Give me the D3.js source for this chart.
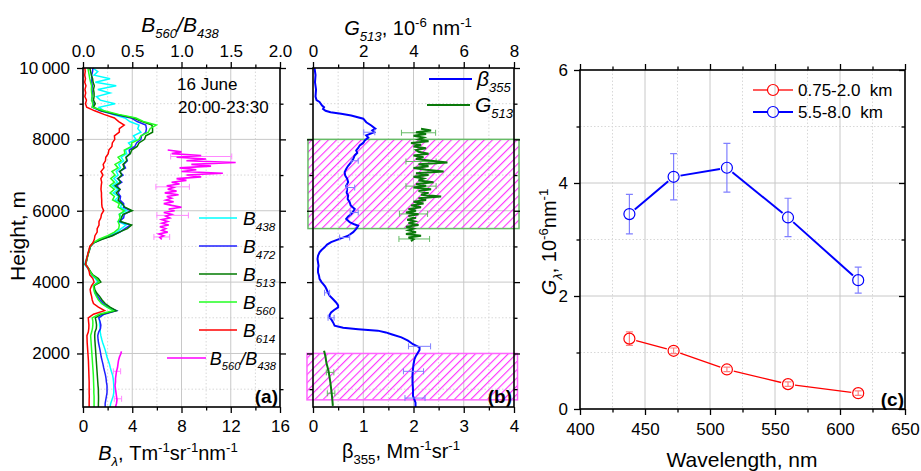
<!DOCTYPE html>
<html>
<head>
<meta charset="utf-8">
<script src="https://cdn.jsdelivr.net/npm/d3@7"></script>
<style>
  body { margin: 0; background: #fff; }
  svg { font-family: "Liberation Sans", Arial, sans-serif; }
</style>
</head>
<body>
<svg id="chart" width="921" height="471"></svg>
<script>
// ---- data: panel (a), backscatter profiles sampled every 100 m from 500 to 10000 m
const heightGrid = d3.range(500, 10001, 100)
const b438 = [2.20, 2.25, 2.35, 2.45, 2.50, 2.50, 2.50, 2.48, 2.45, 2.40, 2.30, 2.22, 2.15, 2.05, 1.95, 1.88, 1.80, 1.70, 1.60, 1.52,
  1.45, 1.40, 1.40, 1.35, 1.35, 1.30, 1.65, 2.55, 1.95, 1.55, 1.30, 1.10, 0.95, 0.90, 0.84, 1.20, 1.00, 0.70, 0.55, 0.35,
  0.12, 0.22, 0.32, 0.40, 0.50, 0.58, 0.85, 1.40, 2.20, 2.75, 3.10, 3.50, 2.85, 3.20, 2.95, 3.55, 3.05, 3.15, 2.60, 2.90,
  2.45, 2.85, 2.40, 2.80, 2.50, 2.85, 2.70, 3.05, 2.90, 3.30, 3.10, 3.55, 3.45, 3.95, 3.70, 4.30, 4.10, 4.70, 4.45, 4.55,
  3.80, 3.40, 2.40, 1.70, 1.30, 2.60, 1.40, 1.10, 2.20, 1.20, 2.70, 1.00, 2.20, 0.90, 1.20, 0.80]
const b472 = [1.80, 1.80, 1.85, 1.90, 1.95, 1.95, 1.95, 1.90, 1.87, 1.82, 1.75, 1.68, 1.62, 1.55, 1.48, 1.43, 1.38, 1.32, 1.26, 1.22,
  1.20, 1.27, 1.42, 1.45, 1.38, 1.28, 1.72, 2.72, 2.05, 1.65, 1.40, 1.20, 1.00, 0.92, 0.86, 1.30, 1.10, 0.75, 0.57, 0.40,
  0.18, 0.28, 0.35, 0.42, 0.52, 0.60, 0.88, 1.50, 2.30, 3.00, 3.40, 3.85, 2.95, 3.30, 3.35, 3.90, 3.30, 3.30, 3.00, 3.05,
  2.85, 3.00, 2.75, 3.15, 2.80, 3.25, 2.95, 3.45, 3.30, 3.60, 3.50, 3.80, 3.75, 4.20, 4.35, 4.70, 4.75, 5.10, 5.15, 5.10,
  4.40, 3.90, 2.50, 1.40, 0.75, 0.90, 0.70, 0.75, 0.78, 0.72, 0.76, 0.70, 0.72, 0.70, 0.78, 0.80]
const b513 = [1.25, 1.25, 1.26, 1.26, 1.25, 1.25, 1.22, 1.20, 1.18, 1.16, 1.14, 1.12, 1.10, 1.08, 1.06, 1.04, 1.02, 1.00, 0.98, 0.96,
  0.95, 0.97, 1.08, 1.10, 1.06, 1.00, 1.50, 2.70, 2.20, 1.80, 1.55, 1.35, 1.10, 0.95, 0.90, 1.45, 1.25, 0.80, 0.60, 0.43,
  0.20, 0.30, 0.36, 0.44, 0.53, 0.60, 0.88, 1.55, 2.40, 2.95, 3.60, 3.95, 3.05, 3.10, 3.25, 4.00, 3.40, 3.15, 2.85, 2.95,
  2.70, 3.00, 2.60, 3.05, 2.85, 3.15, 3.00, 3.35, 3.25, 3.55, 3.50, 3.85, 3.95, 4.40, 4.55, 5.00, 5.10, 5.65, 5.65, 5.60,
  4.80, 4.10, 2.70, 1.50, 0.85, 1.00, 0.85, 0.90, 0.90, 0.85, 0.92, 0.82, 0.78, 0.68, 0.62, 0.55]
const b560 = [0.90, 0.90, 0.90, 0.90, 0.88, 0.88, 0.87, 0.86, 0.85, 0.84, 0.82, 0.80, 0.78, 0.76, 0.74, 0.72, 0.70, 0.68, 0.66, 0.64,
  0.62, 0.70, 0.77, 0.80, 0.80, 0.75, 1.30, 2.45, 1.95, 1.50, 1.25, 1.10, 0.95, 0.88, 0.84, 1.30, 1.10, 0.75, 0.57, 0.42,
  0.18, 0.28, 0.35, 0.42, 0.50, 0.58, 0.82, 1.30, 2.00, 2.55, 2.90, 2.95, 2.85, 3.00, 2.95, 3.35, 2.85, 2.95, 2.40, 2.55,
  2.20, 2.55, 2.18, 2.55, 2.25, 2.60, 2.35, 2.85, 2.60, 3.10, 2.85, 3.40, 3.35, 3.95, 3.95, 4.55, 4.70, 5.30, 5.45, 5.95,
  4.90, 4.30, 2.90, 1.70, 0.75, 0.80, 0.70, 0.75, 0.70, 0.68, 0.70, 0.62, 0.55, 0.50, 0.45, 0.40]
const b614 = [0.50, 0.50, 0.50, 0.51, 0.50, 0.50, 0.50, 0.50, 0.49, 0.48, 0.47, 0.46, 0.45, 0.44, 0.42, 0.40, 0.38, 0.36, 0.34, 0.33,
  0.32, 0.43, 0.47, 0.48, 0.45, 0.43, 0.85, 1.75, 1.25, 0.85, 0.75, 0.70, 0.62, 0.58, 0.70, 0.90, 0.80, 0.55, 0.50, 0.40,
  0.20, 0.25, 0.33, 0.40, 0.48, 0.55, 0.80, 0.92, 0.97, 1.15, 1.15, 1.30, 1.30, 1.45, 1.50, 1.68, 1.55, 1.52, 1.52, 1.50,
  1.50, 1.46, 1.48, 1.52, 1.45, 1.62, 1.46, 1.70, 1.64, 1.82, 1.85, 2.05, 2.10, 2.35, 2.38, 2.58, 2.55, 2.95, 2.95, 3.35,
  2.90, 2.55, 1.70, 0.95, 0.30, 0.20, 0.28, 0.15, 0.22, 0.16, 0.24, 0.14, 0.20, 0.14, 0.18, 0.15]

// B560/B438 ratio, [height m, ratio]
const ratioLower = [[2060, 0.39], [2000, 0.385], [1900, 0.37], [1800, 0.36], [1700, 0.355], [1600, 0.35], [1500, 0.34],
  [1400, 0.335], [1300, 0.33], [1200, 0.33], [1100, 0.325], [1000, 0.33], [900, 0.335], [800, 0.34], [700, 0.345],
  [600, 0.34], [500, 0.33]]
const ratioUpper = [[7700, 0.86], [7650, 1.0], [7600, 0.9], [7550, 1.2], [7500, 0.95], [7450, 1.25], [7400, 1.05],
  [7350, 1.55], [7300, 1.1], [7250, 1.3], [7200, 0.98], [7150, 1.15], [7100, 1.0], [7050, 1.42], [7000, 1.05],
  [6950, 1.2], [6900, 0.95], [6850, 1.05], [6800, 0.9], [6750, 0.98], [6700, 0.85], [6650, 0.92], [6600, 0.86],
  [6550, 0.95], [6500, 0.83], [6450, 0.97], [6400, 0.85], [6350, 0.9], [6300, 0.84], [6250, 0.92], [6200, 0.82],
  [6150, 0.9], [6100, 1.0], [6050, 0.87], [6000, 0.93], [5950, 0.82], [5900, 0.9], [5850, 0.84], [5800, 0.88],
  [5750, 0.8], [5700, 0.86], [5650, 0.8], [5600, 0.87], [5550, 0.78], [5500, 0.84], [5450, 0.8], [5400, 0.86],
  [5350, 0.77], [5300, 0.82], [5250, 0.78], [5200, 0.8]]
const ratioErr = [[7520, 1.2, 0.31], [6670, 0.91, 0.17], [5870, 0.91, 0.16], [5265, 0.8, 0.08], [1500, 0.345, 0.037], [730, 0.355, 0.037]]

// ---- data: panel (b)
const beta355 = [[10000, 0.03], [9800, 0.05], [9600, 0.04], [9400, 0.06], [9200, 0.05], [9100, 0.07], [9050, 0.13], [8950, 0.18],
  [8900, 0.22], [8850, 0.2], [8800, 0.25], [8760, 0.35], [8720, 0.56], [8670, 0.76], [8580, 1.0], [8480, 1.06], [8390, 1.16],
  [8300, 1.24], [8250, 1.18], [8200, 1.22], [8110, 1.06], [8050, 1.1], [7970, 1.03], [7900, 1.0], [7830, 0.93], [7760, 0.9],
  [7690, 0.86], [7620, 0.88], [7550, 0.83], [7450, 0.8], [7360, 0.76], [7260, 0.7], [7170, 0.66], [7080, 0.63], [6990, 0.64],
  [6900, 0.68], [6800, 0.7], [6700, 0.66], [6610, 0.68], [6500, 0.67], [6430, 0.7], [6330, 0.69], [6240, 0.73], [6150, 0.75],
  [6050, 0.83], [5980, 0.8], [5910, 0.76], [5840, 0.7], [5770, 0.66], [5720, 0.7], [5680, 0.73], [5620, 0.82], [5580, 0.9],
  [5530, 0.88], [5490, 0.86], [5400, 0.8], [5300, 0.7], [5210, 0.53], [5120, 0.36], [5050, 0.28], [4975, 0.23], [4900, 0.17],
  [4835, 0.13], [4740, 0.1], [4650, 0.09], [4550, 0.1], [4460, 0.11], [4370, 0.1], [4270, 0.1], [4180, 0.12], [4090, 0.13],
  [4000, 0.17], [3950, 0.2], [3880, 0.24], [3800, 0.27], [3700, 0.3], [3620, 0.33], [3520, 0.4], [3430, 0.46], [3350, 0.5],
  [3290, 0.5], [3220, 0.42], [3150, 0.36], [3080, 0.33], [3010, 0.33], [2940, 0.37], [2870, 0.4], [2780, 0.43], [2720, 0.6],
  [2680, 0.9], [2640, 1.29], [2590, 1.45], [2540, 1.56], [2450, 1.76], [2360, 1.89], [2260, 1.99], [2170, 2.12], [2100, 2.12],
  [2030, 2.09], [1940, 2.05], [1840, 2.02], [1700, 2.0], [1560, 1.99], [1400, 1.98], [1190, 1.98], [1000, 1.99], [810, 1.99],
  [700, 2.02], [620, 2.04], [500, 2.04]]
const betaErr = [[8200, 1.12, 0.11], [7400, 0.83, 0.07], [6650, 0.75, 0.08], [5950, 0.82, 0.08], [5250, 0.63, 0.1],
  [3700, 0.28, 0.05], [3000, 0.36, 0.06], [2200, 2.12, 0.22], [1500, 2.0, 0.2], [750, 2.03, 0.2]]
const g513Upper = [[8300, 4.3], [8250, 4.7], [8200, 4.1], [8150, 4.5], [8100, 4.0], [8050, 4.4], [8000, 4.2], [7950, 4.6],
  [7900, 3.9], [7850, 4.3], [7800, 4.0], [7750, 4.5], [7700, 4.1], [7650, 4.2], [7600, 4.6], [7550, 4.0], [7500, 4.4],
  [7450, 4.1], [7400, 4.7], [7350, 5.35], [7300, 4.2], [7250, 4.6], [7200, 4.0], [7150, 4.5], [7100, 5.2], [7050, 4.1],
  [7000, 4.6], [6950, 4.0], [6900, 4.4], [6850, 4.2], [6800, 4.8], [6750, 4.1], [6700, 4.5], [6650, 4.0], [6600, 4.7],
  [6550, 4.2], [6500, 4.6], [6450, 4.3], [6400, 5.1], [6350, 4.2], [6300, 4.5], [6250, 4.0], [6200, 4.4], [6150, 3.9],
  [6100, 4.3], [6050, 3.8], [6000, 4.1], [5950, 3.7], [5900, 4.2], [5850, 3.8], [5800, 4.1], [5750, 3.75], [5700, 4.05],
  [5650, 3.8], [5600, 4.2], [5550, 3.7], [5500, 4.0], [5450, 3.8], [5400, 4.1], [5350, 3.7], [5300, 4.3], [5250, 3.8],
  [5200, 4.0], [5150, 3.9]]
const g513Lower = [[2075, 0.44], [1900, 0.5], [1750, 0.53], [1500, 0.62], [1200, 0.69], [900, 0.74], [700, 0.77], [530, 0.79]]
const gErr = [[8185, 4.2, 0.68], [7380, 4.3, 0.6], [6690, 4.3, 0.6], [5910, 4.0, 0.56], [5209, 4.03, 0.61],
  [1470, 0.68, 0.15], [885, 0.72, 0.15]]
const layers = [[5500, 8000], [700, 2000]]

// ---- data: panel (c)
const wavelengths = [438, 472, 513, 560, 614]
const gLow = [1.245, 1.03, 0.70, 0.44, 0.28]
const gLowErr = [0.12, 0.05, 0.04, 0.04, 0.04]
const gHigh = [3.45, 4.11, 4.27, 3.39, 2.28]
const gHighErr = [0.35, 0.41, 0.43, 0.34, 0.23]

// ---- drawing
const svg = d3.select('#chart')
const FONT = '"Liberation Sans", Arial, sans-serif'

// magenta "/" hatch
const defs = svg.append('defs')
const pat = defs.append('pattern').attr('id', 'hatch').attr('patternUnits', 'userSpaceOnUse')
  .attr('width', 5.8).attr('height', 5.8).attr('patternTransform', 'rotate(45)')
pat.append('line').attr('x1', 0.6).attr('y1', 0).attr('x2', 0.6).attr('y2', 5.8)
  .style('stroke', '#ff22ff').style('stroke-width', 1.05)

function grid (g, xs, xMaj, xMin, ys, yMaj, yMin) {
  const [x0, x1] = xs.range()
  const [y1, y0] = ys.range()
  const add = (vals, vert, major) => g.selectAll(null).data(vals).join('line')
    .attr('x1', d => vert ? xs(d) : x0).attr('x2', d => vert ? xs(d) : x1)
    .attr('y1', d => vert ? y0 : ys(d)).attr('y2', d => vert ? y1 : ys(d))
    .attr('stroke', major ? '#c8c8c8' : '#d8d8d8')
    .attr('stroke-dasharray', major ? null : '1.5,2')
  add(xMin, true, false); add(yMin, false, false)
  add(xMaj, true, true); add(yMaj, false, true)
}

function addAxis (kind, scale, translate, major, minor, fmt, pad, inward) {
  const mk = { bottom: d3.axisBottom, top: d3.axisTop, left: d3.axisLeft, right: d3.axisRight }[kind]
  const s = inward ? -1 : 1
  const gMin = svg.append('g').attr('transform', translate)
    .call(mk(scale).tickValues(minor).tickSize(3.5 * s).tickFormat(''))
  const gMaj = svg.append('g').attr('transform', translate)
    .call(mk(scale).tickValues(major).tickSize(6 * s).tickPadding(pad || 3).tickFormat(fmt || ''))
  for (const a of [gMin, gMaj]) {
    a.select('.domain').remove()
    a.selectAll('line').attr('stroke', '#000').attr('stroke-width', 1.3)
  }
  gMaj.attr('font-size', 17).attr('font-family', FONT)
  gMaj.selectAll('text').attr('fill', '#000')
}

// text with italic / sub / sup runs
function rich (x, y, parts, size, anchor, rotate, subRatio) {
  const t = svg.append('text').attr('x', x).attr('y', y).attr('font-size', size)
    .attr('text-anchor', anchor || 'middle').attr('fill', '#000')
  if (rotate) t.attr('transform', `rotate(-90,${x},${y})`)
  let off = 0
  for (const [txt, kind, it] of parts) {
    const target = kind === 'sub' ? size * 0.3 : kind === 'sup' ? -size * 0.4 : 0
    const ts = t.append('tspan').text(txt).attr('dy', target - off)
    if (kind) ts.attr('font-size', size * (subRatio || 0.66))
    if (it) ts.attr('font-style', 'italic')
    off = target
  }
  return t
}

function frame (xs, ys) {
  const [x0, x1] = xs.range()
  const [y1, y0] = ys.range()
  svg.append('rect').attr('x', x0).attr('y', y0).attr('width', x1 - x0).attr('height', y1 - y0)
    .attr('fill', 'none').attr('stroke', '#000').attr('stroke-width', 1.6)
}

function hErrors (g, data, xs, ys, color) {
  for (const [h, v, e] of data) {
    const y = ys(h), xa = xs(v - e), xb = xs(v + e)
    g.append('path').attr('d', `M${xa},${y}H${xb}M${xa},${y - 3}V${y + 3}M${xb},${y - 3}V${y + 3}`)
      .attr('stroke', color).attr('stroke-width', 1).attr('fill', 'none')
  }
}

const hMajor = [2000, 4000, 6000, 8000, 10000]
const hMinor = [1000, 3000, 5000, 7000, 9000]

// ---------- panel (a)
const yA = d3.scaleLinear().domain([500, 10000]).range([407, 68])
const xB = d3.scaleLinear().domain([0, 16]).range([83, 280])
const xRatio = d3.scaleLinear().domain([0, 2]).range([83, 280])
const gA = svg.append('g')
grid(gA, xB, [4, 8, 12], [2, 6, 10, 14], yA, [2000, 4000, 6000, 8000], hMinor)

const seriesA = [
  { name: '438', values: b438, color: '#00ffff' },
  { name: '472', values: b472, color: '#1f1fff' },
  { name: '513', values: b513, color: '#007a00' },
  { name: '560', values: b560, color: '#22ff22' },
  { name: '614', values: b614, color: '#ff0000' }
]
const lineB = d3.line().x(d => xB(d[1])).y(d => yA(d[0]))
for (const s of seriesA) {
  gA.append('path').datum(heightGrid.map((h, i) => [h, s.values[i]]))
    .attr('d', lineB).attr('fill', 'none').attr('stroke', s.color).attr('stroke-width', 1.5)
}
const lineR = d3.line().x(d => xRatio(d[1])).y(d => yA(d[0]))
hErrors(gA, ratioErr, xRatio, yA, '#ff88ff')
for (const r of [ratioUpper, ratioLower]) {
  gA.append('path').datum(r).attr('d', lineR).attr('fill', 'none')
    .attr('stroke', '#ff00ff').attr('stroke-width', 1.6)
}

addAxis('left', yA, 'translate(83,0)', hMajor, hMinor, d => d === 10000 ? '10\u2009000' : d, 7)
addAxis('right', yA, 'translate(280,0)', hMajor, hMinor)
addAxis('bottom', xB, 'translate(0,407)', [0, 4, 8, 12, 16], [2, 6, 10, 14], d => d, 7)
addAxis('top', xRatio, 'translate(0,68)', [0, 0.5, 1, 1.5, 2], [0.25, 0.75, 1.25, 1.75], d3.format('.1f'), 5)
frame(xB, yA)

// legend (a)
seriesA.forEach((s, i) => {
  const y = 218 + i * 28
  svg.append('line').attr('x1', 199).attr('x2', 237).attr('y1', y).attr('y2', y)
    .attr('stroke', s.color).attr('stroke-width', 1.6)
  rich(243, y + 7, [['B', '', 1], [s.name, 'sub', 1]], 19, 'start', false, 0.62)
})
svg.append('line').attr('x1', 167).attr('x2', 206).attr('y1', 358).attr('y2', 358)
  .attr('stroke', '#ff00ff').attr('stroke-width', 1.6)
rich(276, 365, [['B', '', 1], ['560', 'sub', 1], ['/', '', 1], ['B', '', 1], ['438', 'sub', 1]], 18, 'end', false, 0.62)

svg.append('text').attr('x', 177).attr('y', 90).attr('font-size', 17).text('16 June')
svg.append('text').attr('x', 178).attr('y', 113).attr('font-size', 17).text('20:00-23:30')
svg.append('text').attr('x', 278).attr('y', 403).attr('font-size', 19).attr('font-weight', 'bold')
  .attr('text-anchor', 'end').text('(a)')

rich(180, 32, [['B', '', 1], ['560', 'sub', 1], ['/', '', 1], ['B', '', 1], ['438', 'sub', 1]], 21, 'middle', false, 0.62)
rich(168, 460, [['B', '', 1], ['λ', 'sub', 1], [', Tm'], ['-1', 'sup'], ['sr'], ['-1', 'sup'], ['nm'], ['-1', 'sup']], 20)
rich(25, 236, [['Height, m']], 21, 'middle', true)

// ---------- panel (b)
const yB = yA.copy()
const xBeta = d3.scaleLinear().domain([0, 4]).range([313, 514])
const xG = d3.scaleLinear().domain([0, 8]).range([313, 514])
const gB = svg.append('g')
grid(gB, xBeta, [1, 2, 3], [0.5, 1.5, 2.5, 3.5], yB, [2000, 4000, 6000, 8000], hMinor)

gB.append('rect').attr('x', xBeta(-0.1)).attr('width', xBeta(4.1) - xBeta(-0.1))
  .attr('y', yB(layers[0][1])).attr('height', yB(layers[0][0]) - yB(layers[0][1]))
  .style('fill', 'url(#hatch)').attr('stroke', '#66bb66').attr('stroke-width', 1.5)
gB.append('rect').attr('x', xBeta(-0.12)).attr('width', xBeta(4.07) - xBeta(-0.12))
  .attr('y', yB(layers[1][1])).attr('height', yB(layers[1][0]) - yB(layers[1][1]))
  .style('fill', 'url(#hatch)').attr('stroke', '#ff66ff').attr('stroke-width', 1.5)

const lineBeta = d3.line().x(d => xBeta(d[1])).y(d => yB(d[0]))
const lineG = d3.line().x(d => xG(d[1])).y(d => yB(d[0]))
hErrors(gB, gErr, xG, yB, '#66bb66')
for (const gdat of [g513Upper, g513Lower]) {
  gB.append('path').datum(gdat).attr('d', lineG).attr('fill', 'none')
    .attr('stroke', '#0a7a0a').attr('stroke-width', 2)
}
gB.append('path').datum(beta355).attr('d', lineBeta).attr('fill', 'none')
  .attr('stroke', '#0000ff').attr('stroke-width', 2)
hErrors(gB, betaErr, xBeta, yB, '#7f7fff')

addAxis('left', yB, 'translate(313,0)', hMajor, hMinor)
addAxis('right', yB, 'translate(514,0)', hMajor, hMinor)
addAxis('bottom', xBeta, 'translate(0,407)', [0, 1, 2, 3, 4], [0.5, 1.5, 2.5, 3.5], d => d, 7)
addAxis('top', xG, 'translate(0,68)', [0, 2, 4, 6, 8], [1, 3, 5, 7], d => d, 5)
frame(xBeta, yB)

svg.append('line').attr('x1', 429).attr('x2', 472).attr('y1', 79).attr('y2', 79)
  .attr('stroke', '#0000ff').attr('stroke-width', 2)
rich(477, 86, [['β', '', 1], ['355', 'sub', 1]], 21, 'start', false, 0.62)
svg.append('line').attr('x1', 427).attr('x2', 470).attr('y1', 105).attr('y2', 105)
  .attr('stroke', '#0a7a0a').attr('stroke-width', 2)
rich(475, 112, [['G', '', 1], ['513', 'sub', 1]], 21, 'start', false, 0.62)
svg.append('text').attr('x', 512).attr('y', 403).attr('font-size', 19).attr('font-weight', 'bold')
  .attr('text-anchor', 'end').text('(b)')

rich(408, 35, [['G', '', 1], ['513', 'sub', 1], [', 10'], ['-6', 'sup'], [' nm'], ['-1', 'sup']], 20)
rich(401, 458, [['β'], ['355', 'sub'], [', Mm'], ['-1', 'sup'], ['sr'], ['-1', 'sup']], 20)

// ---------- panel (c)
const xW = d3.scaleLinear().domain([400, 650]).range([580, 905])
const yGc = d3.scaleLinear().domain([0, 6]).range([409, 70])
const gC = svg.append('g')
grid(gC, xW, [450, 500, 550, 600], [425, 475, 525, 575, 625], yGc, [2, 4], [1, 3, 5])

const R = 5.5
function series (vals, errs, color, errColor, width) {
  const pts = wavelengths.map((w, i) => [xW(w), yGc(vals[i])])
  wavelengths.forEach((w, i) => {
    const x = xW(w), ya = yGc(vals[i] + errs[i]), yb = yGc(vals[i] - errs[i])
    gC.append('path').attr('d', `M${x},${ya}V${yb}M${x - 3.5},${ya}H${x + 3.5}M${x - 3.5},${yb}H${x + 3.5}`)
      .attr('stroke', errColor).attr('stroke-width', 1.2).attr('fill', 'none')
  })
  for (let i = 0; i < pts.length - 1; i++) {
    const [ax, ay] = pts[i], [bx, by] = pts[i + 1]
    const L = Math.hypot(bx - ax, by - ay), ux = (bx - ax) / L, uy = (by - ay) / L, c = R + 1.5
    gC.append('line').attr('x1', ax + ux * c).attr('y1', ay + uy * c)
      .attr('x2', bx - ux * c).attr('y2', by - uy * c)
      .attr('stroke', color).attr('stroke-width', width)
  }
  gC.selectAll(null).data(pts).join('circle')
    .attr('cx', d => d[0]).attr('cy', d => d[1]).attr('r', R)
    .attr('fill', 'none').attr('stroke', color).attr('stroke-width', 1.2)
}
series(gLow, gLowErr, '#ff0000', '#ff8080', 1.3)
series(gHigh, gHighErr, '#0000ff', '#8080ff', 2)

addAxis('left', yGc, 'translate(580,0)', [0, 2, 4, 6], [1, 3, 5], d => d, 6)
addAxis('right', yGc, 'translate(905,0)', [0, 2, 4, 6], [1, 3, 5], null, 3, true)
addAxis('bottom', xW, 'translate(0,409)', [400, 450, 500, 550, 600, 650], [425, 475, 525, 575, 625], d => d, 8)
addAxis('top', xW, 'translate(0,70)', [400, 450, 500, 550, 600, 650], [425, 475, 525, 575, 625])
frame(xW, yGc)

const legC = [['0.75-2.0  km', '#ff0000', 1.3], ['5.5-8.0  km', '#0000ff', 2]]
legC.forEach(([label, color, w], i) => {
  const y = 90 + i * 22
  svg.append('line').attr('x1', 753).attr('x2', 767).attr('y1', y).attr('y2', y).attr('stroke', color).attr('stroke-width', w)
  svg.append('line').attr('x1', 779).attr('x2', 793).attr('y1', y).attr('y2', y).attr('stroke', color).attr('stroke-width', w)
  svg.append('circle').attr('cx', 773).attr('cy', y).attr('r', R).attr('fill', 'none')
    .attr('stroke', color).attr('stroke-width', 1.2)
  svg.append('text').attr('x', 798).attr('y', y + 6).attr('font-size', 17)
    .style('white-space', 'pre').text(label)
})
svg.append('text').attr('x', 904).attr('y', 406).attr('font-size', 19).attr('font-weight', 'bold')
  .attr('text-anchor', 'end').text('(c)')

rich(742, 467, [['Wavelength, nm']], 21)
rich(556, 242, [['G', '', 1], ['λ', 'sub', 1], [', 10'], ['-6', 'sup'], ['nm'], ['-1', 'sup']], 20, 'middle', true)
</script>
</body>
</html>
